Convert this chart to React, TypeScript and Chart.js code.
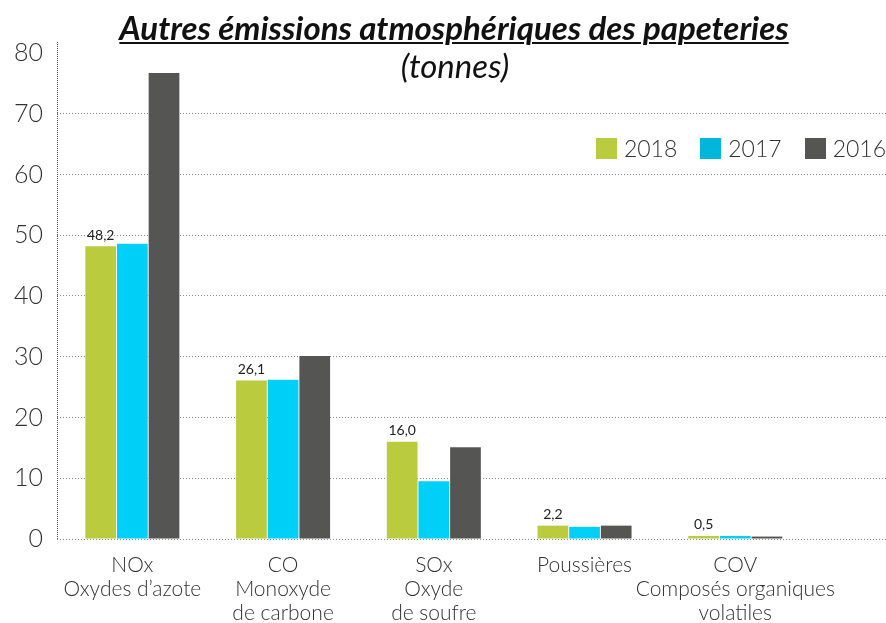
import React, { useEffect, useRef } from "react";
import { Chart, registerables } from "chart.js";

Chart.register(...registerables);

const categories: string[][] = [
  ["NOx", "Oxydes d’azote"],
  ["CO", "Monoxyde", "de carbone"],
  ["SOx", "Oxyde", "de soufre"],
  ["Poussières"],
  ["COV", "Composés organiques", "volatiles"],
];
const seriesNames = ["2018", "2017", "2016"];
const values2018 = [48.2, 26.1, 16.0, 2.2, 0.5];
const values2017 = [48.6, 26.2, 9.5, 2.0, 0.5];
const values2016 = [76.7, 30.1, 15.1, 2.2, 0.4];
const yTicks = [0, 10, 20, 30, 40, 50, 60, 70, 80];

const barColors = ["#bacb3e", "#00d0f8", "#555553"];
const legendColors = ["#bacb3e", "#00b6da", "#555553"];
const FONT = "Lato, 'Open Sans', sans-serif";

const valueLabels = {
  id: "valueLabels",
  afterDatasetsDraw(chart: any) {
    const ctx = chart.ctx;
    const meta = chart.getDatasetMeta(0);
    ctx.save();
    ctx.font = `400 14px ${FONT}`;
    ctx.fillStyle = "#222";
    ctx.textAlign = "center";
    ctx.textBaseline = "bottom";
    meta.data.forEach((bar: any, i: number) => {
      ctx.fillText(values2018[i].toFixed(1).replace(".", ","), bar.x, bar.y - 4);
    });
    ctx.restore();
  },
};

// dotted y axis line (Chart.js draws axis borders solid)
const dottedAxis = {
  id: "dottedAxis",
  beforeDatasetsDraw(chart: any) {
    const { ctx, chartArea } = chart;
    ctx.save();
    ctx.strokeStyle = "#555";
    ctx.lineWidth = 1;
    ctx.setLineDash([1, 1]);
    ctx.beginPath();
    ctx.moveTo(chartArea.left + 0.5, chartArea.top);
    ctx.lineTo(chartArea.left + 0.5, chartArea.bottom);
    ctx.stroke();
    ctx.restore();
  },
};

export default function App() {
  const ref = useRef<HTMLCanvasElement | null>(null);
  useEffect(() => {
    document.body.style.margin = "0";
    const toPoints = (arr: number[]) => arr.map((y, i) => ({ x: i, y }));
    const all = [values2018, values2017, values2016];
    const chart = new Chart(ref.current!, {
      type: "bar",
      data: {
        datasets: all.map((vals, k) => ({
          label: seriesNames[k],
          data: toPoints(vals),
          backgroundColor: barColors[k],
          borderWidth: 0,
          categoryPercentage: 0.63,
          barPercentage: 0.97,
        })),
      },
      plugins: [valueLabels, dottedAxis],
      options: {
        animation: false,
        responsive: false,
        devicePixelRatio: 1,
        layout: { padding: { top: 42, right: 0, left: 0, bottom: 0 } },
        plugins: {
          legend: { display: false },
          title: { display: false },
          tooltip: { enabled: false },
        },
        scales: {
          x: {
            type: "linear",
            offset: false,
            min: -0.5,
            max: 5,
            afterBuildTicks: (scale: any) => {
              scale.ticks = categories.map((_, i) => ({ value: i }));
            },
            afterFit: (scale: any) => {
              scale.height = 84;
            },
            grid: { display: false, offset: false },
            border: { display: false },
            ticks: {
              autoSkip: false,
              maxRotation: 0,
              padding: 6,
              color: "#333",
              font: { family: FONT, size: 21, weight: "300", lineHeight: 1.14 },
              callback: (v: any) => categories[v] ?? "",
            },
          },
          y: {
            min: 0,
            max: 81.8,
            afterBuildTicks: (scale: any) => {
              scale.ticks = yTicks.map((v) => ({ value: v }));
            },
            afterFit: (scale: any) => {
              scale.width = 57;
            },
            grid: {
              drawTicks: false,
              color: (c: any) => (c.tick && c.tick.value >= 80 ? "rgba(0,0,0,0)" : "#8c8c8c"),
              lineWidth: 1,
            },
            border: { display: false, dash: [1, 2] },
            ticks: {
              padding: 14,
              color: "#333",
              font: { family: FONT, size: 25, weight: "300" },
            },
          },
        },
      } as any,
    });
    return () => chart.destroy();
  }, []);

  return (
    <div style={{ position: "relative", width: 886, height: 623, fontFamily: FONT }}>
      <canvas ref={ref} width={886} height={623} style={{ width: 886, height: 623, display: "block" }} />
      <div
        style={{
          position: "absolute",
          left: 0,
          width: 908,
          top: 7,
          textAlign: "center",
          fontSize: 33,
          lineHeight: "40px",
          fontWeight: 700,
          fontStyle: "italic",
          color: "#111",
          textDecoration: "underline",
          textDecorationThickness: "2px",
          textUnderlineOffset: "2px",
        }}
      >
        Autres émissions atmosphériques des papeteries
      </div>
      <div
        style={{
          position: "absolute",
          left: 0,
          width: 910,
          top: 45,
          textAlign: "center",
          fontSize: 33,
          lineHeight: "40px",
          fontWeight: 400,
          fontStyle: "italic",
          color: "#111",
        }}
      >
        (tonnes)
      </div>
      <div
        style={{
          position: "absolute",
          right: 0,
          top: 134,
          display: "flex",
          alignItems: "center",
          gap: 23,
        }}
      >
        {seriesNames.map((n, k) => (
          <div key={n} style={{ display: "flex", alignItems: "center", gap: 7 }}>
            <span style={{ width: 21, height: 21, background: legendColors[k], display: "inline-block" }} />
            <span style={{ fontSize: 23, fontWeight: 300, color: "#333", lineHeight: "28px" }}>{n}</span>
          </div>
        ))}
      </div>
    </div>
  );
}
